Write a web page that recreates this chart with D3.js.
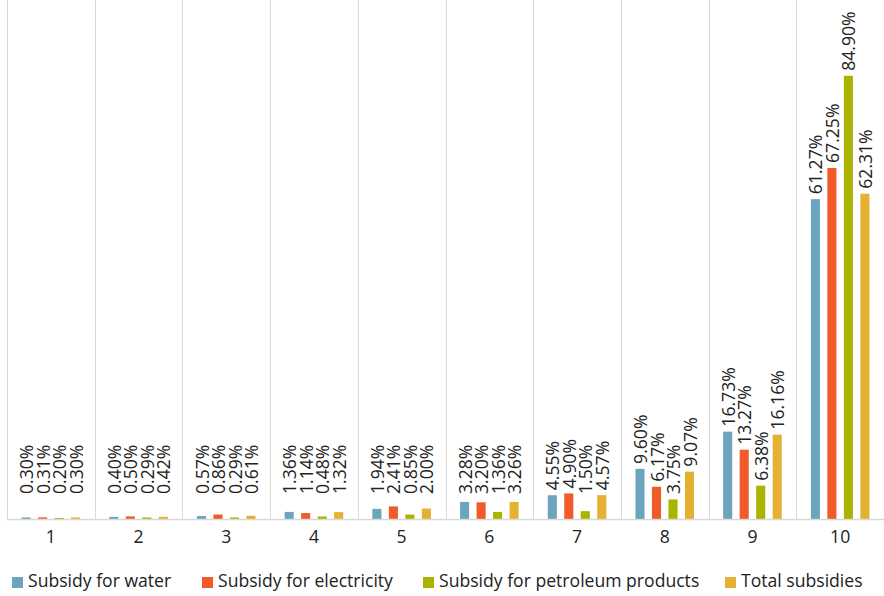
<!DOCTYPE html>
<html>
<head>
<meta charset="utf-8">
<script src="https://cdn.jsdelivr.net/npm/d3@7"></script>
<style>
  html, body { margin: 0; padding: 0; background: #ffffff; }
  svg { display: block; font-family: "Open Sans", "Noto Sans", sans-serif; }
</style>
</head>
<body>
<svg id="chart" width="884" height="596"></svg>
<script>
// Decile groups along the x axis
const categories = ["1", "2", "3", "4", "5", "6", "7", "8", "9", "10"];

// Share of each subsidy received by each decile (%)
const seriesNames = [
  "Subsidy for water",
  "Subsidy for electricity",
  "Subsidy for petroleum products",
  "Total subsidies"
];
const water       = [0.30, 0.40, 0.57, 1.36, 1.94, 3.28, 4.55, 9.60, 16.73, 61.27];
const electricity = [0.31, 0.50, 0.86, 1.14, 2.41, 3.20, 4.90, 6.17, 13.27, 67.25];
const petroleum   = [0.20, 0.29, 0.29, 0.48, 0.85, 1.36, 1.50, 3.75, 6.38, 84.90];
const total       = [0.30, 0.42, 0.61, 1.32, 2.00, 3.26, 4.57, 9.07, 16.16, 62.31];
const seriesValues = [water, electricity, petroleum, total];
const colors = ["#6aa4bd", "#f15a29", "#a9b300", "#e5b133"];

const svg = d3.select("#chart");
const plot = { left: 7, right: 884, top: -3, bottom: 519 };
const fontSize = 17.6;

const x0 = d3.scaleBand().domain(categories).range([plot.left, plot.right]).padding(0);
const y = d3.scaleLinear().domain([0, 100]).range([plot.bottom, plot.top]);
const groupWidth = 66;
const x1 = d3.scaleBand().domain(d3.range(seriesNames.length))
  .range([0, groupWidth]).paddingInner(0.45).paddingOuter(0.225);

// Vertical separators between deciles
const seps = categories.map(c => x0(c)).concat([plot.right - 0.5]);
svg.append("g").selectAll("line").data(seps).join("line")
  .attr("x1", d => Math.round(d) + 0.5).attr("x2", d => Math.round(d) + 0.5)
  .attr("y1", 0).attr("y2", plot.bottom)
  .attr("stroke", "#d9d9d9").attr("stroke-width", 1);

// Bars and their rotated value labels
const rows = [];
categories.forEach((c, i) => {
  seriesValues.forEach((vals, s) => rows.push({ cat: c, s, v: vals[i] }));
});
const barX = d => x0(d.cat) + x0.bandwidth() / 2 - groupWidth / 2 + x1(d.s);

svg.append("g").selectAll("rect").data(rows).join("rect")
  .attr("x", barX)
  .attr("y", d => y(d.v))
  .attr("width", x1.bandwidth())
  .attr("height", d => plot.bottom - y(d.v))
  .attr("fill", d => colors[d.s]);

svg.append("g").selectAll("text").data(rows).join("text")
  .attr("transform", d => {
    const cx = barX(d) + x1.bandwidth() / 2;
    const by = Math.min(y(d.v) - 5, plot.bottom - 25);
    return `translate(${cx},${by}) rotate(-90)`;
  })
  .attr("text-anchor", "start")
  .attr("dominant-baseline", "central")
  .attr("font-size", fontSize)
  .attr("fill", "#222222")
  .text(d => d.v.toFixed(2) + "%");

// Baseline axis with decile labels
const xAxis = d3.axisBottom(x0).tickSize(0).tickPadding(12);
const ax = svg.append("g").attr("transform", `translate(0,${plot.bottom})`).call(xAxis);
ax.select(".domain").attr("stroke", "#d9d9d9").attr("stroke-width", 1.5);
ax.selectAll("text").attr("font-size", fontSize).attr("fill", "#222222")
  .attr("font-family", "\"Open Sans\", \"Noto Sans\", sans-serif");

// Legend
const legendX = [12, 202, 423, 725];
const lg = svg.append("g").selectAll("g").data(seriesNames).join("g")
  .attr("transform", (d, i) => `translate(${legendX[i]},577)`);
lg.append("rect").attr("width", 11).attr("height", 11).attr("fill", (d, i) => colors[i]);
lg.append("text").attr("x", 16).attr("y", 10).attr("font-size", fontSize)
  .attr("fill", "#222222").text(d => d);
</script>
</body>
</html>
